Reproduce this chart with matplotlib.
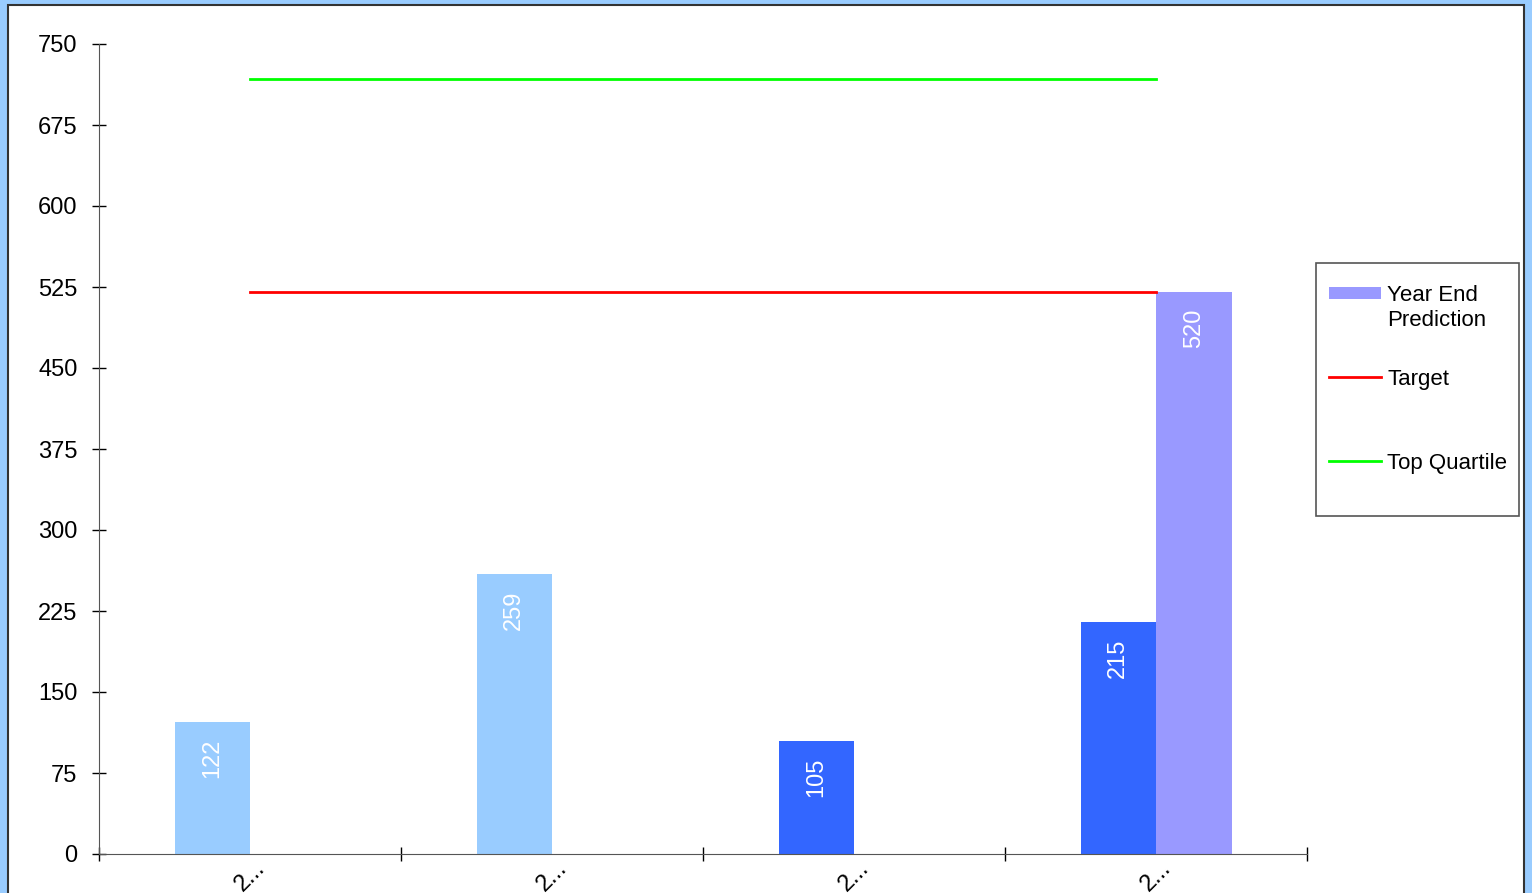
import numpy as np
from matplotlib import pyplot as plt
from matplotlib.patches import Rectangle
from matplotlib.lines import Line2D

plt.rcParams['font.family'] = ['Liberation Sans', 'DejaVu Sans']

# data
categories = ['2...', '2...', '2...', '2...']
actual = [122, 259, 105, 215]
actual_colors = ['#99CCFF', '#99CCFF', '#3366FF', '#3366FF']
prediction = [None, None, None, 520]
target = 520
top_quartile = 718
yticks = list(range(0, 751, 75))
legend_labels = ['Year End\nPrediction', 'Target', 'Top Quartile']

W, H = 1532, 893
fig = plt.figure(figsize=(W/100, H/100), dpi=100)
fig.patch.set_facecolor('#99CCFF')

def px(x, y):
    # pixel coords (from top-left) -> figure fraction
    return x / W, 1 - y / H

# white chart panel with dark border
fig.patches.append(Rectangle((8/W, -0.1), (1524-8)/W, 1.1 - 5/H, transform=fig.transFigure,
                             facecolor='white', edgecolor='#333333', linewidth=1.5, zorder=-1))

ax = fig.add_axes([99/W, 39/H, (1307-99)/W, 810/H])
ax.set_facecolor('none')

centers = np.arange(len(categories)) + 0.5
w = 0.25
for i, c in enumerate(centers):
    ax.bar(c - w/2, actual[i], width=w, color=actual_colors[i], zorder=2)
    ax.annotate(str(actual[i]), (c - w/2, actual[i]), xytext=(0, -12), textcoords='offset points',
                rotation=90, ha='center', va='top', color='white', fontsize=17)
    if prediction[i] is not None:
        ax.bar(c + w/2, prediction[i], width=w, color='#9999FF', zorder=2)
        ax.annotate(str(prediction[i]), (c + w/2, prediction[i]), xytext=(0, -12), textcoords='offset points',
                    rotation=90, ha='center', va='top', color='white', fontsize=17)

ax.plot([centers[0], centers[-1]], [target, target], color='#FF0000', linewidth=2, zorder=3)
ax.plot([centers[0], centers[-1]], [top_quartile, top_quartile], color='#00FF00', linewidth=2, zorder=3)

ax.set_xlim(0, len(categories))
ax.set_ylim(0, 750)
ax.set_yticks(yticks)
ax.tick_params(axis='y', direction='inout', length=10, width=1, labelsize=17, pad=10.5)
ax.set_xticks(np.arange(len(categories) + 1))
ax.set_xticklabels([])
ax.tick_params(axis='x', which='major', direction='inout', length=10, width=1)
ax.set_xticks(centers, minor=True)
ax.set_xticklabels(categories, minor=True, rotation=45, fontsize=17, ha='center')
ax.tick_params(axis='x', which='minor', length=0, pad=2)
for s in ['top', 'right']:
    ax.spines[s].set_visible(False)
for s in ['left', 'bottom']:
    ax.spines[s].set_color('#555555')

# legend, laid out like the original
x0, y0 = px(1316, 516)
x1, y1 = px(1519, 263)
fig.patches.append(Rectangle((x0, y0), x1 - x0, y1 - y0, transform=fig.transFigure,
                             facecolor='white', edgecolor='#555555', linewidth=1.2, zorder=5))
hx0, _ = px(1329, 0)
hx1, _ = px(1381, 0)
tx, _ = px(1387, 0)
_, py0 = px(0, 299)
_, py1 = px(0, 287)
fig.patches.append(Rectangle((hx0, py0), hx1 - hx0, py1 - py0, transform=fig.transFigure,
                             facecolor='#9999FF', edgecolor='none', zorder=6))
for ly, col in [(377, '#FF0000'), (461, '#00FF00')]:
    _, yy = px(0, ly)
    fig.add_artist(Line2D([hx0, hx1], [yy, yy], transform=fig.transFigure, color=col,
                          linewidth=2, zorder=6))
for text, by in [(legend_labels[0].split('\n')[0], 301), (legend_labels[0].split('\n')[1], 326),
                 (legend_labels[1], 385), (legend_labels[2], 469)]:
    _, yy = px(0, by)
    fig.text(tx, yy, text, fontsize=16, va='baseline', ha='left', zorder=7)

fig.savefig('out.png', dpi=100, facecolor=fig.get_facecolor())
